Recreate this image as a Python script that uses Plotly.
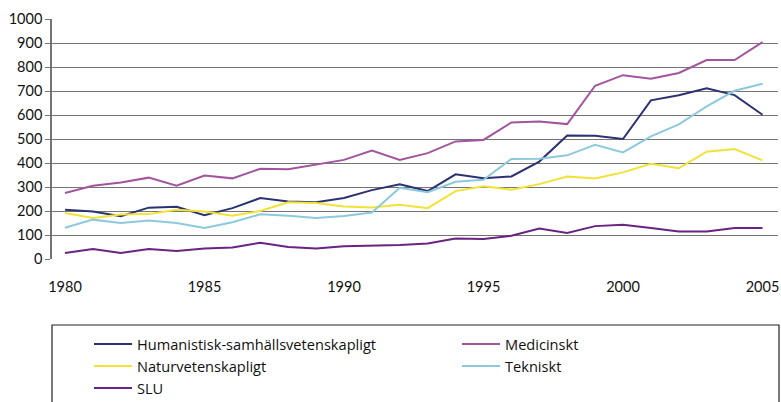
import plotly.graph_objects as go

years = list(range(1980, 2006))

humanistisk = [205, 198, 178, 214, 218, 182, 212, 254, 240, 236, 254, 287, 311, 283, 353, 336, 344, 406,
               515, 514, 500, 661, 682, 711, 683, 601]
medicinskt = [275, 305, 319, 339, 305, 348, 336, 376, 374, 393, 413, 452, 413, 441, 490, 496, 569, 573,
              562, 722, 766, 751, 775, 829, 829, 904]
naturvet = [192, 171, 185, 187, 205, 198, 180, 200, 236, 233, 219, 215, 226, 212, 283, 303, 289, 312,
            344, 335, 361, 397, 378, 447, 458, 411]
tekniskt = [130, 164, 150, 160, 150, 129, 153, 186, 180, 171, 179, 194, 297, 278, 322, 330, 417, 418,
            432, 476, 444, 511, 561, 636, 701, 730]
slu = [25, 42, 25, 42, 33, 44, 48, 68, 50, 44, 53, 55, 58, 65, 85, 83, 97, 127,
       108, 137, 143, 129, 115, 115, 129, 129]

series_names = ["Humanistisk-samhällsvetenskapligt", "Medicinskt", "Naturvetenskapligt", "Tekniskt", "SLU"]
series_values = [humanistisk, medicinskt, naturvet, tekniskt, slu]
series_colors = ["#2B3272", "#A3549F", "#F2E236", "#8DC9DC", "#6A2380"]
series_legend = ["legend", "legend2", "legend", "legend2", "legend"]

y_ticks = list(range(0, 1001, 100))
x_ticks = [1980, 1985, 1990, 1995, 2000, 2005]

W, H = 781, 402
ml, mr, mt, mb = 52, 3, 19, 143
pw, ph = W - ml - mr, H - mb - mt


def px_x(x):
    return (x - ml) / pw


def px_y(y):
    return (H - mb - y) / ph


fig = go.Figure()
for name, vals, col, lg in zip(series_names, series_values, series_colors, series_legend):
    fig.add_trace(go.Scatter(x=years, y=vals, mode="lines", name=name, legend=lg,
                             line=dict(color=col, width=2)))

legend_common = dict(orientation="v", xanchor="left", yanchor="top",
                     bgcolor="rgba(0,0,0,0)", borderwidth=0, tracegroupgap=0, itemwidth=38,
                     font=dict(family="'Open Sans', sans-serif", size=14.6, color="#111111"),
                     itemclick=False, traceorder="normal")

fig.update_layout(
    width=W, height=H,
    margin=dict(l=ml, r=mr, t=mt, b=mb, pad=0, autoexpand=False),
    paper_bgcolor="white", plot_bgcolor="white",
    font=dict(family="Lato, 'Open Sans', sans-serif", size=14.5, color="#111111"),
    showlegend=True,
    legend=dict(x=px_x(89), y=px_y(328), **legend_common),
    legend2=dict(x=px_x(457), y=px_y(328), **legend_common),
    xaxis=dict(range=[1979.534, 2005.556], tickvals=x_ticks, ticktext=[str(v) for v in x_ticks],
               showgrid=False, zeroline=False, showline=False, ticks="",
               ticklabelstandoff=17, fixedrange=True),
    yaxis=dict(range=[0, 1000], tickvals=y_ticks, showgrid=True, gridcolor="#747474", gridwidth=1.3,
               zeroline=False, showline=True, linecolor="#747474", linewidth=1.5,
               ticks="outside", ticklen=5, tickcolor="#747474", tickwidth=1.3,
               ticklabelstandoff=0, fixedrange=True),
)

# legend frame (extends below the visible page, as in the reference)
fig.add_shape(type="rect", xref="paper", yref="paper",
              x0=0, x1=px_x(779), y0=px_y(420), y1=px_y(325),
              line=dict(color="#222222", width=1.2), fillcolor="rgba(0,0,0,0)", layer="above")

fig.write_html("out.html", config={"displayModeBar": False},
               post_script="document.body.style.margin='0';document.body.style.overflow='hidden';")
